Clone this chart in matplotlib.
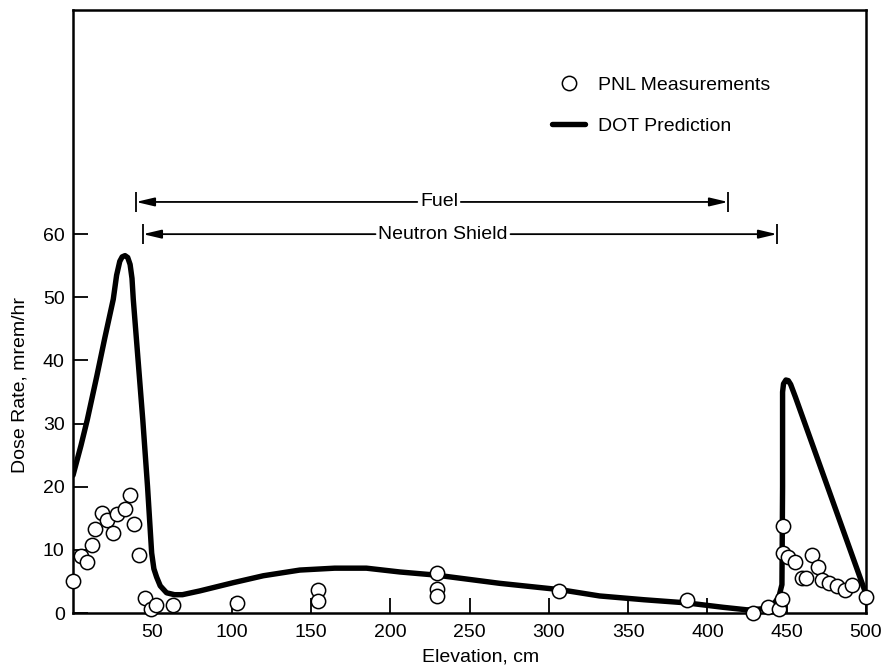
import matplotlib
matplotlib.use("Agg")
import matplotlib.pyplot as plt

plt.rcParams['font.family'] = ['Liberation Sans', 'DejaVu Sans']

# ---- data ----
pnl_elev = [0.2, 4.8, 9.0, 12.2, 13.9, 18.1, 21.2, 25.0, 27.9, 32.8, 35.9, 38.5, 41.8,
            45.4, 49.0, 52.3, 62.9, 103.2, 154.7, 154.7, 229.3, 229.3, 229.3, 306.6,
            387.3, 428.5, 438.0, 445.2, 446.8, 447.4, 447.4, 451.0, 455.2, 459.4, 461.9,
            466.1, 469.9, 472.0, 476.9, 481.9, 486.8, 491.0, 500.0]
pnl_dose = [5.1, 9.1, 8.0, 10.8, 13.3, 15.8, 14.8, 12.7, 15.7, 16.5, 18.7, 14.1, 9.2,
            2.3, 0.7, 1.3, 1.3, 1.6, 3.7, 1.9, 6.3, 3.8, 2.7, 3.5,
            2.0, 0.0, 0.9, 0.7, 2.2, 13.7, 9.5, 8.8, 8.0, 5.6, 5.5,
            9.2, 7.3, 5.2, 4.7, 4.2, 3.7, 4.4, 2.5]

dot_elev = [0, 5, 9, 15, 20, 25.4, 27.5, 29.5, 31, 32.8, 34.5, 36, 37.2, 38, 44, 47, 49.6,
            51, 52.7, 55, 59, 64, 69, 80, 101, 120, 143, 165, 185, 206, 229, 269, 307,
            332, 360, 387, 410, 425, 437, 442, 445, 447, 447.4, 447.4, 448, 449.5, 451,
            452.5, 454, 455.5, 499, 500]
dot_dose = [21.8, 26.5, 30.6, 37.5, 43.5, 49.7, 53.5, 55.7, 56.4, 56.6, 56.3, 55.2, 53.0,
            49.7, 30.6, 20.0, 9.5, 7.0, 5.7, 4.3, 3.2, 2.9, 2.9, 3.5, 4.8, 5.9, 6.8, 7.1,
            7.1, 6.5, 6.0, 4.7, 3.7, 2.7, 2.1, 1.6, 0.9, 0.5, 0.7, 1.5, 2.5, 4.5, 20.0,
            35.0, 36.3, 36.9, 36.8, 36.2, 35.2, 34.2, 3.7, 2.5]

x_ticks = [50, 100, 150, 200, 250, 300, 350, 400, 450, 500]
y_ticks = [0, 10, 20, 30, 40, 50, 60]

fuel_range = (39.7, 413.0)
fuel_level = 65.1
shield_range = (44.1, 443.9)
shield_level = 60.0

# ---- figure ----
W, H = 885, 669
fig = plt.figure(figsize=(W / 100, H / 100), dpi=100)
ax_l, ax_r, ax_t, ax_b = 73, 866, 10, 613
ax = fig.add_axes([ax_l / W, 1 - ax_b / H, (ax_r - ax_l) / W, (ax_b - ax_t) / H])

ax.plot(dot_elev, dot_dose, color='black', lw=3.9, solid_capstyle='round',
        solid_joinstyle='round', label='DOT Prediction', zorder=3)
ax.plot(pnl_elev, pnl_dose, linestyle='none', marker='o', markersize=10.3,
        markerfacecolor='white', markeredgecolor='black', markeredgewidth=1.1,
        label='PNL Measurements', zorder=4, clip_on=False)

ax.set_xlim(0, 500)
ax.set_ylim(0, 95.5)
ax.set_xticks(x_ticks)
ax.set_yticks(y_ticks)
ax.tick_params(axis='both', direction='in', length=11, width=1.3, labelsize=14)
ax.tick_params(axis='y', pad=6)
ax.tick_params(axis='x', pad=8)
for s in ax.spines.values():
    s.set_linewidth(1.8)

ax.set_xlabel('Elevation, cm', fontsize=14, va='center')
ax.xaxis.set_label_coords((481 - ax_l) / (ax_r - ax_l), (ax_b - 657) / (ax_b - ax_t))
ax.set_ylabel('Dose Rate, mrem/hr', fontsize=14, va='center')
ax.yaxis.set_label_coords((20 - ax_l) / (ax_r - ax_l), (ax_b - 385) / (ax_b - ax_t))

# range arrows
arrow_style = '-|>,head_length=0.55,head_width=0.13'
def range_arrow(label, rng, level, tx):
    ax.annotate(label, xy=(rng[0], level), xytext=(tx, level), ha='center', va='center',
                fontsize=14,
                arrowprops=dict(arrowstyle=arrow_style, color='black', lw=1.3,
                                shrinkA=0, shrinkB=0, mutation_scale=20))
    ax.annotate(label, xy=(rng[1], level), xytext=(tx, level), ha='center', va='center',
                fontsize=14, color='none',
                arrowprops=dict(arrowstyle=arrow_style, color='black', lw=1.3,
                                shrinkA=0, shrinkB=0, mutation_scale=20))
    ax.vlines(rng, level - 1.6, level + 1.6, color='black', lw=1.3)

range_arrow('Fuel', fuel_range, fuel_level, 230.8)
range_arrow('Neutron Shield', shield_range, shield_level, 233.3)

handles, labels = ax.get_legend_handles_labels()
leg = ax.legend(handles[::-1], labels[::-1], loc='upper left',
                bbox_to_anchor=(552 / W, 1 - 76 / H), bbox_transform=fig.transFigure,
                frameon=False, fontsize=14, numpoints=1, handlelength=1.7,
                handletextpad=0.67, labelspacing=1.2, borderpad=0, borderaxespad=0)

fig.savefig('out.png', dpi=100)
